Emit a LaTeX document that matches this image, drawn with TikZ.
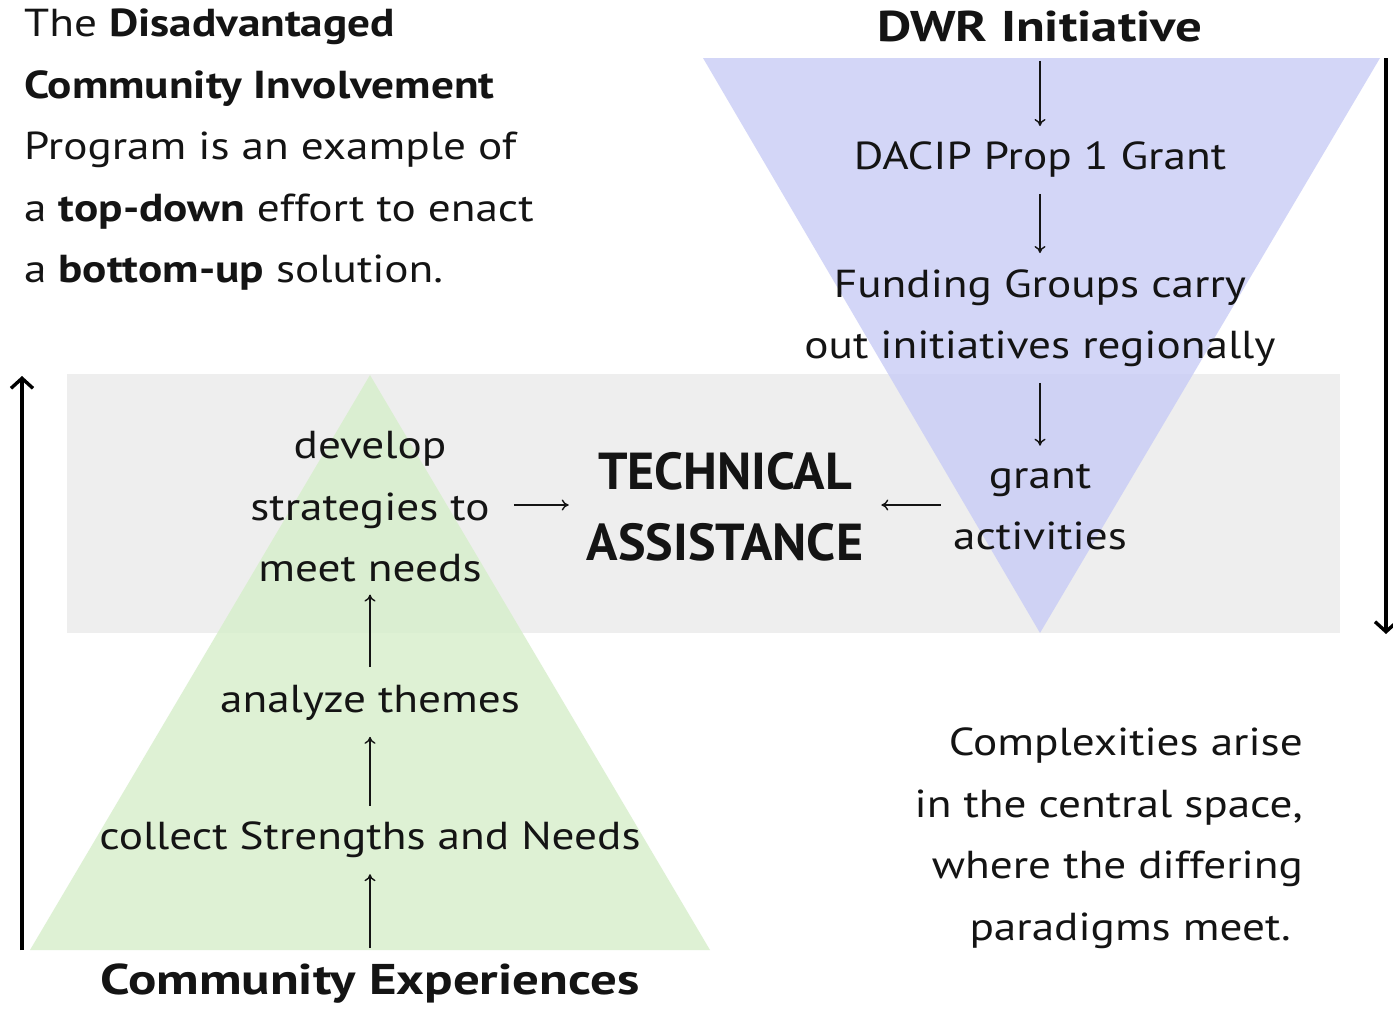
\documentclass[tikz,border=0pt]{standalone}
\usepackage{fontspec}
\setmainfont{PT Sans}[FakeStretch=1.16]
\newfontfamily\headfont{PT Sans}[FakeStretch=1.23]
\newfontfamily\tafont{PT Sans}
\usetikzlibrary{arrows.meta}
\definecolor{bandgray}{RGB}{238,238,238}
\definecolor{topblue}{RGB}{200,204,246}
\definecolor{botgreen}{RGB}{214,238,202}
\definecolor{ink}{RGB}{20,20,20}
\tikzset{
  txt/.style={inner sep=0pt, text=ink, font=\fontsize{39}{61.5}\selectfont, align=center},
  boldtxt/.style={txt, font=\headfont\fontsize{43}{61.5}\selectfont\bfseries},
  bigbold/.style={txt, font=\tafont\fontsize{52}{71}\selectfont\bfseries},
  thinarr/.style={draw=ink, line width=1.4pt, -{To[length=7pt,width=11pt]}},
  longarr/.style={draw=black, line width=3.4pt, -{Straight Barb[length=10pt,width=22pt,line width=3.4pt]}},
}
\begin{document}
\begin{tikzpicture}[x=1pt,y=-1pt]
\useasboundingbox (0,0) rectangle (1393,1009);
\fill[white] (0,0) rectangle (1393,1009);
% shapes
\fill[bandgray] (67,374) rectangle (1340,633);
\fill[botgreen, opacity=0.8] (370,375) -- (710,950) -- (30,950) -- cycle;
\fill[topblue, opacity=0.8] (703,58) -- (1380,58) -- (1040,633) -- cycle;
% top-left text
\node[txt, anchor=west, align=left] (intro) at (24,150)
 {The \textbf{Disadvantaged}\\ \textbf{Community Involvement}\\ Program is an example of\\ a \textbf{top-down} effort to enact\\ a \textbf{bottom-up} solution.};
% top-down chain
\node[boldtxt] (dwr) at (1040,27) {DWR Initiative};
\node[txt] (dacip) at (1040,160) {DACIP Prop 1 Grant};
\node[txt] (fund) at (1040,318) {Funding Groups carry\\ out initiatives regionally};
\node[txt] (grant) at (1040,507) {grant\\ activities};
\draw[thinarr, shorten <=18pt, shorten >=16pt] (dwr) -- (dacip);
\draw[thinarr, shorten <=16pt, shorten >=16pt] (dacip) -- (fund);
\draw[thinarr, shorten <=16pt, shorten >=18pt] (fund) -- (grant);
% center
\node[bigbold] (ta) at (725,507) {TECHNICAL\\ ASSISTANCE};
\draw[thinarr, shorten <=12pt, shorten >=18pt] (grant.west |- 0,505) -- (ta.east |- 0,505);
% bottom-up chain
\node[boldtxt] (comm) at (370,984) {Community Experiences};
\node[txt] (collect) at (370,840) {collect Strengths and Needs};
\node[txt] (analyze) at (370,703) {analyze themes};
\node[txt] (develop) at (370,507) {develop\\ strategies to\\ meet needs};
\draw[thinarr, shorten <=16pt, shorten >=16pt] (comm) -- (collect);
\draw[thinarr, shorten <=16pt, shorten >=16pt] (collect) -- (analyze);
\draw[thinarr, shorten <=18pt, shorten >=12pt] (analyze) -- (develop);
\draw[thinarr, shorten <=24pt, shorten >=18pt] (develop.east |- 0,505) -- (ta.west |- 0,505);
% long arrows
\coordinate (lb) at (22,950);
\coordinate (lt) at (22,376);
\coordinate (rt) at (1386,58);
\coordinate (rb) at (1386,634);
\draw[longarr] (lb) -- (lt);
\draw[longarr] (rt) -- (rb);
% note
\node[txt, align=right, anchor=east] (note) at (1303,838)
 {Complexities arise\\ in the central space,\\ where the differing\\ paradigms meet.\hspace*{12pt}};
\end{tikzpicture}
\end{document}
